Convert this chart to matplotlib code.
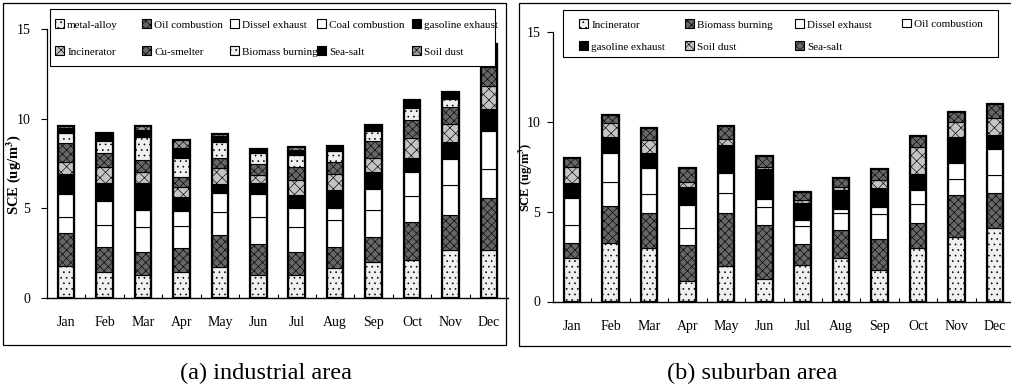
import matplotlib
matplotlib.use("Agg")
import matplotlib.pyplot as plt
import numpy as np
from matplotlib.patches import Rectangle

plt.rcParams['font.family'] = ['Liberation Serif', 'DejaVu Serif']
plt.rcParams['mathtext.fontset'] = 'stix'
plt.rcParams['hatch.linewidth'] = 0.45

months = ["Jan", "Feb", "Mar", "Apr", "May", "Jun", "Jul", "Aug", "Sep", "Oct", "Nov", "Dec"]

# ---- (a) industrial area (stack order bottom -> top) ----
labels_a = ["metal-alloy", "Oil combustion", "Dissel exhaust", "Coal combustion", "gasoline exhaust",
            "Incinerator", "Cu-smelter", "Biomass burning", "Sea-salt", "Soil dust"]
metal_alloy_a = [1.80, 1.43, 1.30, 1.45, 1.75, 1.28, 1.28, 1.67, 1.99, 2.14, 2.70, 2.70]
oil_a         = [1.82, 1.40, 1.27, 1.34, 1.76, 1.73, 1.30, 1.16, 1.41, 2.10, 1.93, 2.89]
dissel_a      = [0.90, 1.26, 1.39, 1.21, 1.30, 1.53, 1.40, 1.54, 1.49, 1.43, 1.66, 1.62]
coal_a        = [1.28, 1.30, 0.97, 0.87, 1.06, 1.24, 1.02, 0.65, 1.19, 1.39, 1.48, 2.14]
gasoline_a    = [1.13, 1.02, 1.48, 0.76, 0.52, 0.65, 0.74, 1.02, 0.98, 0.75, 0.94, 1.21]
incinerator_a = [0.69, 0.93, 0.65, 0.54, 0.84, 0.43, 0.84, 0.89, 0.75, 1.11, 1.02, 1.30]
cu_smelter_a  = [1.02, 0.75, 0.65, 0.61, 0.56, 0.61, 0.74, 0.69, 0.93, 1.02, 0.93, 1.02]
biomass_a     = [0.56, 0.70, 1.30, 1.03, 0.93, 0.60, 0.65, 0.56, 0.59, 0.65, 0.47, 0.74]
seasalt_a     = [0.28, 0.36, 0.38, 0.55, 0.31, 0.22, 0.28, 0.24, 0.28, 0.43, 0.33, 0.37]
soil_a        = [0.13, 0.05, 0.22, 0.47, 0.15, 0.05, 0.19, 0.07, 0.05, 0.05, 0.05, 0.19]
series_a = [metal_alloy_a, oil_a, dissel_a, coal_a, gasoline_a,
            incinerator_a, cu_smelter_a, biomass_a, seasalt_a, soil_a]

# ---- (b) suburban area ----
labels_b = ["Incinerator", "Biomass burning", "Dissel exhaust", "Oil combustion",
            "gasoline exhaust", "Soil dust", "Sea-salt"]
incinerator_b = [2.44, 3.28, 3.00, 1.15, 1.98, 1.24, 2.04, 2.41, 1.76, 2.96, 3.57, 4.07]
biomass_b     = [0.80, 2.05, 1.94, 2.00, 2.96, 3.02, 1.13, 1.57, 1.70, 1.39, 2.36, 1.95]
dissel_b      = [1.02, 1.34, 1.04, 0.92, 1.08, 1.02, 1.00, 0.93, 1.39, 1.08, 0.88, 1.02]
oil_b         = [1.48, 1.57, 1.43, 1.30, 1.11, 0.41, 0.35, 0.22, 0.43, 0.77, 0.88, 1.42]
gasoline_b    = [0.83, 0.93, 0.83, 1.02, 1.57, 1.66, 0.94, 1.07, 1.02, 0.89, 1.48, 0.80]
soil_b        = [0.93, 0.74, 0.74, 0.28, 0.32, 0.15, 0.19, 0.19, 0.46, 1.52, 0.83, 0.93]
seasalt_b     = [0.46, 0.46, 0.69, 0.74, 0.74, 0.59, 0.46, 0.46, 0.59, 0.59, 0.56, 0.79]
series_b = [incinerator_b, biomass_b, dissel_b, oil_b, gasoline_b, soil_b, seasalt_b]

# styles (face, hatch)
LIGHT_DOT = ("#f0f0f0", "...")
DARK_X = ("#666666", "xxxx")
WHITE = ("#ffffff", None)
BLACK = ("#000000", None)
LIGHT_X = ("#c4c4c4", "xxx")
MID_X = ("#9a9a9a", "xxxx")
styles_a = [LIGHT_DOT, DARK_X, WHITE, WHITE, BLACK, LIGHT_X, DARK_X, LIGHT_DOT, BLACK, MID_X]
styles_b = [LIGHT_DOT, DARK_X, WHITE, WHITE, BLACK, LIGHT_X, DARK_X]

W, H = 1011, 389
fig = plt.figure(figsize=(W / 100, H / 100), dpi=100)


def fx(px):
    return px / W


def fy(py):
    return (H - py) / H


def draw_panel(rect, series, labels, styles, xlim_right, box, col_x, row_y, ncol,
               ylab_x, ylab_fs, ytick_pad, xtick_pad):
    ax = fig.add_axes(rect)
    x = np.arange(len(months))
    bottom = np.zeros(len(months))
    handles = []
    for vals, lab, (fc, hatch) in zip(series, labels, styles):
        b = ax.bar(x, vals, 0.43, bottom=bottom, color=fc, edgecolor="black",
                   linewidth=0.8, hatch=hatch, label=lab, zorder=2)
        handles.append(b)
        bottom = bottom + np.array(vals)
    ax.bar(x, bottom, 0.43, fill=False, edgecolor="black", linewidth=1.6, zorder=3)
    ax.set_xlim(-0.5, xlim_right)
    ax.set_ylim(0, 15)
    ax.set_yticks([0, 5, 10, 15])
    ax.tick_params(axis="y", direction="out", length=4, width=0.8,
                   labelsize=10, pad=ytick_pad)
    ax.set_xticks(x)
    ax.set_xticklabels(months)
    ax.tick_params(axis="x", which="major", length=0, labelsize=10, pad=xtick_pad)
    ax.set_xticks(np.arange(0.5, 11.5, 1), minor=True)
    ax.tick_params(axis="x", which="minor", direction="in", length=3, width=0.8)
    for s in ("top", "right"):
        ax.spines[s].set_visible(False)
    ax.spines["left"].set_linewidth(0.9)
    ax.spines["bottom"].set_linewidth(1.0)
    ax.set_facecolor("none")

    # legend frame
    x0, y0, x1, y1 = box
    fig.add_artist(Rectangle((fx(x0), fy(y1)), fx(x1 - x0), (y1 - y0) / H,
                             transform=fig.transFigure, facecolor="white",
                             edgecolor="black", linewidth=0.8, zorder=5))
    # legend entries: row-wise order, one small legend per column (equal-width Excel layout)
    n = len(handles)
    for c in range(ncol):
        idx = [i for i in (c, c + ncol) if i < n]
        leg = fig.legend([handles[i] for i in idx], [labels[i] for i in idx],
                         loc="center left",
                         bbox_to_anchor=(fx(col_x[c]) - 0.003, fy((row_y[0] + row_y[1]) / 2)
                                         if len(idx) == 2 else fy(row_y[0])),
                         bbox_transform=fig.transFigure, frameon=False,
                         fontsize=8, handlelength=0.8, handleheight=0.8,
                         handletextpad=0.3, borderpad=0, borderaxespad=0,
                         labelspacing=(row_y[1] - row_y[0]) / 11.1 - 1.0)
        leg.set_zorder(6)
    fig.text(fx(ylab_x), rect[1] + rect[3] * 0.46, r"SCE (ug/m$^{\mathbf{3}}$)",
             rotation=90, ha="center", va="center", fontsize=ylab_fs, fontweight="bold")
    return ax


# panel (a)
draw_panel([fx(47), fy(298), fx(461), (298 - 29.3) / H], series_a, labels_a, styles_a, 11.5,
           (50, 9, 495, 66), [58, 145, 233, 320, 415], [24, 52], 5,
           14, 10.5, 8, 13)
# panel (b)
draw_panel([fx(553), fy(301.5), fx(458), (301.5 - 31.7) / H], series_b, labels_b, styles_b, 11.42,
           (563, 10, 998, 57), [582, 688, 798, 905], [24, 47], 4,
           526, 9, 5, 13)

# panel frames
fig.add_artist(Rectangle((fx(3), fy(345)), fx(503), (345 - 3) / H, transform=fig.transFigure,
                         fill=False, edgecolor="black", linewidth=0.9))
fig.add_artist(Rectangle((fx(519), fy(346)), fx(500), (346 - 3) / H, transform=fig.transFigure,
                         fill=False, edgecolor="black", linewidth=0.9))

# captions
fig.text(fx(266), fy(373), "(a) industrial area", ha="center", va="center", fontsize=17.5)
fig.text(fx(752), fy(373), "(b) suburban area", ha="center", va="center", fontsize=17.5)

fig.savefig("out.png", dpi=100)
